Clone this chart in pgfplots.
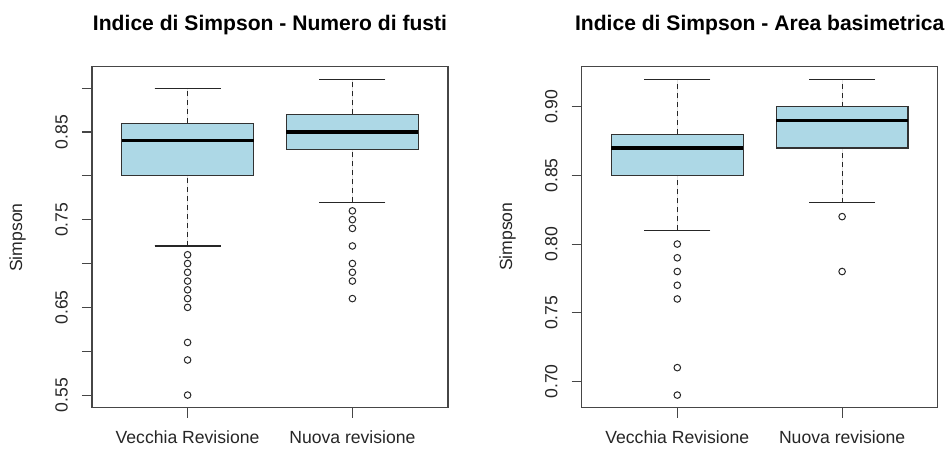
\documentclass[border=0pt]{standalone}
\usepackage{fontspec}
\setmainfont{Liberation Sans}
\usepackage{pgfplots}
\pgfplotsset{compat=1.18}
\usepgfplotslibrary{statistics}
\definecolor{lb}{RGB}{173,216,230}
\definecolor{bord}{RGB}{50,50,50}
\definecolor{axcol}{RGB}{70,70,70}
\pgfplotsset{
  boxplot/draw direction=y,
  boxplot/draw/lower whisker/.code={%
    \draw[black!85,line width=1.1pt,dash pattern=on 5pt off 4pt]
      (boxplot cs:\pgfplotsboxplotvalue{lower whisker}) -- (boxplot cs:\pgfplotsboxplotvalue{lower quartile});
    \draw[black!85,line width=1.1pt]
      (boxplot whisker cs:\pgfplotsboxplotvalue{lower whisker},0) -- (boxplot whisker cs:\pgfplotsboxplotvalue{lower whisker},1);
  },
  boxplot/draw/upper whisker/.code={%
    \draw[black!85,line width=1.1pt,dash pattern=on 5pt off 4pt]
      (boxplot cs:\pgfplotsboxplotvalue{upper quartile}) -- (boxplot cs:\pgfplotsboxplotvalue{upper whisker});
    \draw[black!85,line width=1.1pt]
      (boxplot whisker cs:\pgfplotsboxplotvalue{upper whisker},0) -- (boxplot whisker cs:\pgfplotsboxplotvalue{upper whisker},1);
  },
  boxplot/every box/.style={fill=lb,draw=bord,line width=1.3pt},
  boxplot/every median/.style={draw=black,line width=3.3pt},
  myaxis/.style={
    scale only axis, width=356pt, height=341pt, anchor=south west,
    axis line style={draw=axcol,line width=1.1pt},
    xmin=0.42, xmax=2.58,
    xtick={1,2}, xticklabels={Vecchia Revisione,Nuova revisione},
    xtick pos=bottom, ytick pos=left,
    tick align=outside, major tick length=10pt,
    major tick style={draw=axcol,line width=1.1pt},
    tick label style={font=\fontsize{17.6}{20}\selectfont, text=black!85, inner sep=0pt},
    yticklabel style={rotate=90, anchor=south},
    yticklabel shift=14pt,
    xticklabel style={anchor=base},
    xticklabel shift=26pt,
  },
  myplot/.style={fill=lb, draw=bord, mark=o, mark size=3.3pt, mark options={draw=black!85,line width=1pt,solid}},
}
\begin{document}
\begin{tikzpicture}
\useasboundingbox (0,0) rectangle (947pt,448pt);
\begin{axis}[myaxis, at={(92pt,40.3pt)},
  ymin=0.5356, ymax=0.9244,
  ytick={0.55,0.60,0.65,0.70,0.75,0.80,0.85,0.90},
  yticklabels={0.55,,0.65,,0.75,,0.85,}]
\addplot[myplot, boxplot prepared={lower whisker=0.72, lower quartile=0.80, median=0.84, upper quartile=0.86, upper whisker=0.90, draw position=1, box extend=0.8, whisker extend=0.4}]
  coordinates {(0,0.71) (0,0.70) (0,0.69) (0,0.68) (0,0.67) (0,0.66) (0,0.65) (0,0.61) (0,0.59) (0,0.55)};
\addplot[myplot, boxplot prepared={lower whisker=0.77, lower quartile=0.83, median=0.85, upper quartile=0.87, upper whisker=0.91, draw position=2, box extend=0.8, whisker extend=0.4}]
  coordinates {(0,0.76) (0,0.75) (0,0.74) (0,0.72) (0,0.70) (0,0.69) (0,0.68) (0,0.66)};
\end{axis}
\begin{axis}[myaxis, at={(581.7pt,40.3pt)},
  ymin=0.6808, ymax=0.9292,
  ytick={0.70,0.75,0.80,0.85,0.90},
  yticklabels={0.70,0.75,0.80,0.85,0.90}]
\addplot[myplot, boxplot prepared={lower whisker=0.81, lower quartile=0.85, median=0.87, upper quartile=0.88, upper whisker=0.92, draw position=1, box extend=0.8, whisker extend=0.4}]
  coordinates {(0,0.80) (0,0.79) (0,0.78) (0,0.77) (0,0.76) (0,0.71) (0,0.69)};
\addplot[myplot, boxplot prepared={lower whisker=0.83, lower quartile=0.87, median=0.89, upper quartile=0.90, upper whisker=0.92, draw position=2, box extend=0.8, whisker extend=0.4}]
  coordinates {(0,0.82) (0,0.78)};
\end{axis}
\node[anchor=base, font=\bfseries\fontsize{21.1}{24}\selectfont, inner sep=0pt] at (270pt,417.3pt) {Indice di Simpson - Numero di fusti};
\node[anchor=base, font=\bfseries\fontsize{21.1}{24}\selectfont, inner sep=0pt] at (759.7pt,417.3pt) {Indice di Simpson - Area basimetrica};
\node[rotate=90, font=\fontsize{17.6}{20}\selectfont, text=black!85, inner sep=0pt] at (17.5pt,210.5pt) {Simpson};
\node[rotate=90, font=\fontsize{17.6}{20}\selectfont, text=black!85, inner sep=0pt] at (507.5pt,211.3pt) {Simpson};
\end{tikzpicture}
\end{document}
